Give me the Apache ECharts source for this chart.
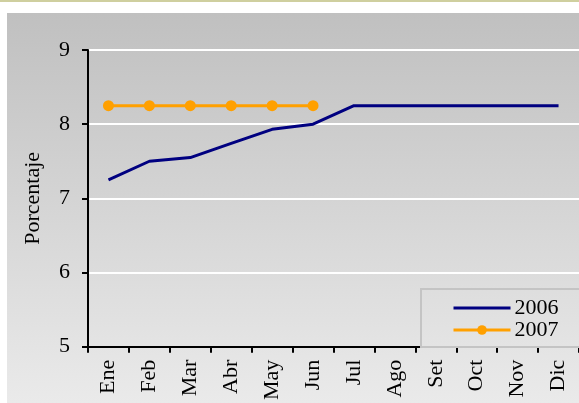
<!DOCTYPE html>
<html>
<head>
<meta charset="utf-8">
<script src="https://cdn.jsdelivr.net/npm/echarts@6/dist/echarts.min.js"></script>
<style>
  html, body { margin: 0; padding: 0; background: #fff; }
  .topline { position: absolute; left: 0; top: 0; width: 579px; height: 2px; background: #cfcf9f; }
  #chart {
    position: absolute; left: 7px; top: 13px; width: 572px; height: 390px;
    background: linear-gradient(to bottom, #c0c0c0 0%, #eaeaea 100%);
  }
</style>
</head>
<body>
<div class="topline"></div>
<div id="chart"></div>
<script>
const months = ['Ene','Feb','Mar','Abr','May','Jun','Jul','Ago','Set','Oct','Nov','Dic']
const serie2006 = [7.25, 7.5, 7.55, 7.74, 7.93, 8.0, 8.25, 8.25, 8.25, 8.25, 8.25, 8.25]
const serie2007 = [8.25, 8.25, 8.25, 8.25, 8.25, 8.25]
const yTicks = [5, 6, 7, 8, 9]

const FONT = '"Liberation Serif", "Times New Roman", serif'
const FS = 22

const chart = echarts.init(document.getElementById('chart'))
chart.setOption({
  animation: false,
  textStyle: { fontFamily: FONT, color: '#000' },
  grid: { left: 81, right: 0, top: 37, bottom: 54 },
  legend: {
    orient: 'vertical',
    left: 414,
    top: 276,
    padding: [8, 40, 6, 31],
    itemGap: 0,
    itemWidth: 57,
    itemHeight: 12,
    borderColor: '#c4c4c4',
    borderWidth: 2,
    lineStyle: { width: 3 },
    textStyle: { fontFamily: FONT, fontSize: FS, color: '#000', padding: [0, 0, 0, -1], lineHeight: 18 },
    data: [
      { name: '2006', itemStyle: { opacity: 0 }, lineStyle: { width: 3 } },
      { name: '2007', lineStyle: { width: 3 } }
    ]
  },
  xAxis: {
    type: 'category',
    data: months,
    boundaryGap: true,
    axisLine: { lineStyle: { color: '#000', width: 2 } },
    axisTick: { show: true, length: 6, lineStyle: { color: '#000', width: 2 } },
    axisLabel: { rotate: 90, fontSize: FS, fontFamily: FONT, color: '#000', margin: 13 },
    splitLine: { show: false }
  },
  yAxis: {
    type: 'value',
    min: yTicks[0],
    max: yTicks[yTicks.length - 1],
    interval: 1,
    name: 'Porcentaje',
    nameLocation: 'middle',
    nameGap: 44,
    nameTextStyle: { fontSize: FS, fontFamily: FONT, color: '#000' },
    axisLine: { show: true, lineStyle: { color: '#000', width: 2 } },
    axisTick: { show: true, length: 6, lineStyle: { color: '#000', width: 2 } },
    axisLabel: { fontSize: FS, fontFamily: FONT, color: '#000', margin: 18 },
    splitLine: { lineStyle: { color: '#ffffff', width: 2 } }
  },
  series: [
    {
      name: '2006',
      type: 'line',
      data: serie2006,
      symbol: 'none',
      lineStyle: { color: '#000080', width: 3 },
      itemStyle: { color: '#000080' }
    },
    {
      name: '2007',
      type: 'line',
      data: serie2007,
      symbol: 'circle',
      symbolSize: 11,
      lineStyle: { color: '#ffa000', width: 3 },
      itemStyle: { color: '#ffa000' }
    }
  ]
})
</script>
</body>
</html>
